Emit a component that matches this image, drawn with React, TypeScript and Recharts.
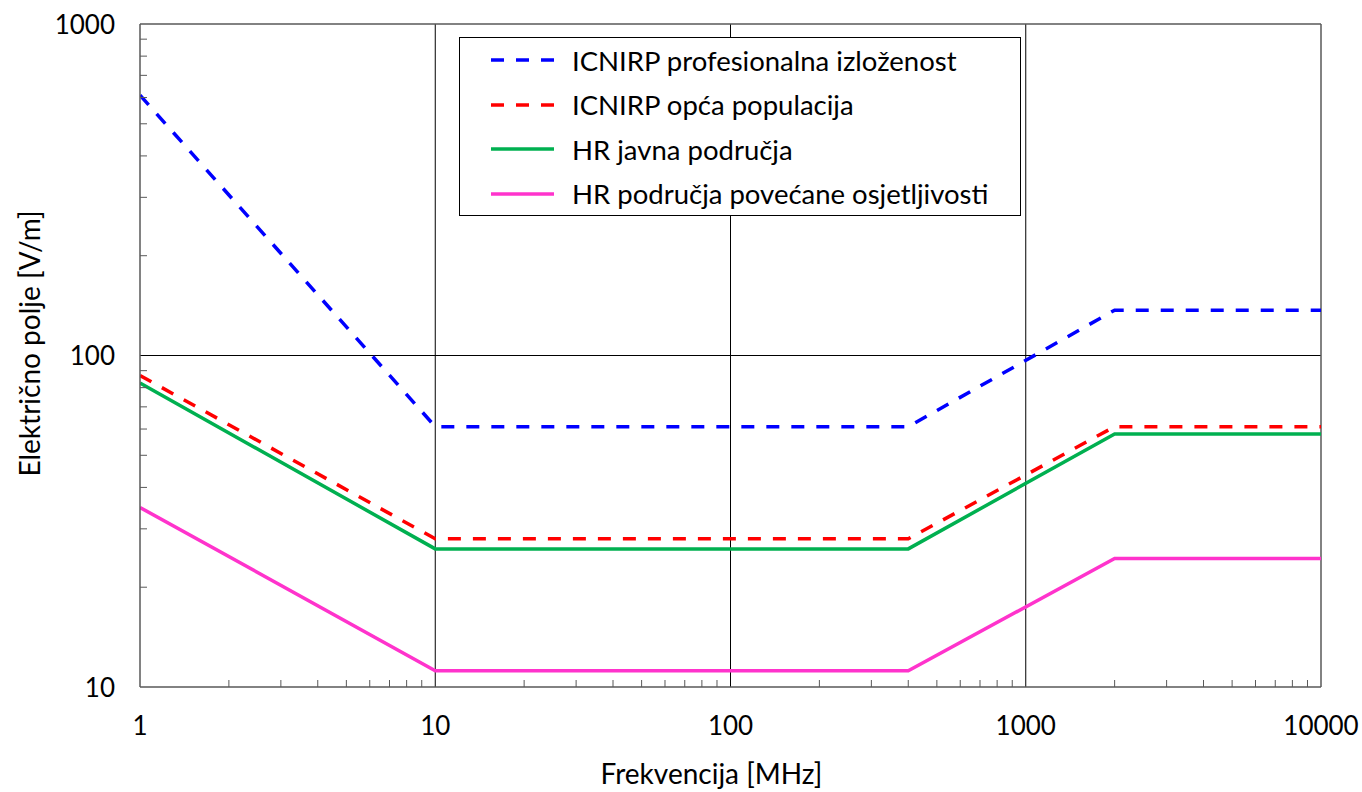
import React from 'react';
import { LineChart, Line, XAxis, YAxis, ReferenceLine, Legend, Label } from 'recharts';

// frequency breakpoints [MHz] and field limits [V/m]
const frequencies = [1, 10, 400, 2000, 10000];
const icnirpProfessional = [610, 61, 61, 137, 137];
const icnirpGeneral = [87, 28, 28, 61, 61];
const hrPublic = [82.6, 26.1, 26.1, 58, 58];
const hrSensitive = [34.8, 11.2, 11.2, 24.4, 24.4];

const xMajorTicks = [1, 10, 100, 1000, 10000];
const xMinorTicks = [
  2, 3, 4, 5, 6, 7, 8, 9,
  20, 30, 40, 50, 60, 70, 80, 90,
  200, 300, 400, 500, 600, 700, 800, 900,
  2000, 3000, 4000, 5000, 6000, 7000, 8000, 9000,
];
const yMajorTicks = [10, 100, 1000];
const yMinorTicks = [20, 30, 40, 50, 60, 70, 80, 90, 200, 300, 400, 500, 600, 700, 800, 900];

const series = [
  { key: 'prof', name: 'ICNIRP profesionalna izloženost', color: '#0000FF', dash: '13 12', values: icnirpProfessional },
  { key: 'general', name: 'ICNIRP opća populacija', color: '#FF0000', dash: '13 12', values: icnirpGeneral },
  { key: 'hrPublic', name: 'HR javna područja', color: '#00B050', dash: undefined, values: hrPublic },
  { key: 'hrSensitive', name: 'HR područja povećane osjetljivosti', color: '#FF33CC', dash: undefined, values: hrSensitive },
];

const data = frequencies.map((freq, i) => {
  const row: Record<string, number> = { freq };
  series.forEach((s) => {
    row[s.key] = s.values[i];
  });
  return row;
});

const AXIS = '#595959';
const FONT = 'Lato, "Open Sans", sans-serif';

function XTick(props: any) {
  const { x, y, payload } = props;
  const major = xMajorTicks.includes(payload.value);
  return (
    <g>
      {!major && <line x1={x} x2={x} y1={y} y2={y - 7} stroke={AXIS} strokeWidth={1} />}
      {major && (
        <text x={x} y={y + 48} textAnchor="middle" fontSize={26} fill="#000" fontFamily={FONT}>
          {payload.value}
        </text>
      )}
    </g>
  );
}

function YTick(props: any) {
  const { x, y, payload } = props;
  const major = yMajorTicks.includes(payload.value);
  return (
    <g>
      {!major && <line x1={x} x2={x + 7} y1={y} y2={y} stroke={AXIS} strokeWidth={1} />}
      {major && (
        <text x={x - 25} y={y + 9.5} textAnchor="end" fontSize={26} fill="#000" fontFamily={FONT}>
          {payload.value}
        </text>
      )}
    </g>
  );
}

function LegendBox() {
  return (
    <div
      style={{
        width: 562,
        height: 179,
        boxSizing: 'border-box',
        border: '1px solid #000',
        background: '#fff',
        fontFamily: FONT,
        fontSize: 27.5,
        color: '#000',
      }}
    >
      {series.map((s) => (
        <div key={s.key} style={{ height: 44.5, display: 'flex', alignItems: 'center' }}>
          <svg width={63} height={10} style={{ marginLeft: 31 }}>
            <line x1={0} x2={63} y1={5} y2={5} stroke={s.color} strokeWidth={3.5} strokeDasharray={s.dash} />
          </svg>
          <span style={{ marginLeft: 18, lineHeight: 1 }}>{s.name}</span>
        </div>
      ))}
    </div>
  );
}

export default function App() {
  return (
    <div style={{ position: 'absolute', left: 0, top: 0 }}>
      <LineChart
        width={1362}
        height={792}
        data={data}
        margin={{ top: 24, right: 41, left: 0, bottom: 0 }}
        style={{ fontFamily: FONT }}
      >
        <XAxis
          dataKey="freq"
          type="number"
          scale="log"
          domain={[1, 10000]}
          allowDataOverflow
          ticks={[...xMajorTicks, ...xMinorTicks]}
          interval={0}
          tick={<XTick />}
          tickLine={false}
          tickSize={0}
          tickMargin={0}
          height={105}
          axisLine={{ stroke: AXIS, strokeWidth: 1.5 }}
        >
          <Label
            content={(p: any) => {
              const vb = p.viewBox;
              return (
                <text x={vb.x + vb.width / 2 - 19} y={vb.y + 97} textAnchor="middle" fontSize={28} fill="#000" fontFamily={FONT}>
                  Frekvencija [MHz]
                </text>
              );
            }}
          />
        </XAxis>
        <YAxis
          type="number"
          scale="log"
          domain={[10, 1000]}
          allowDataOverflow
          ticks={[...yMajorTicks, ...yMinorTicks]}
          interval={0}
          tick={<YTick />}
          tickLine={false}
          tickSize={0}
          tickMargin={0}
          width={140}
          axisLine={{ stroke: AXIS, strokeWidth: 1.5 }}
        >
          <Label
            content={(p: any) => {
              const vb = p.viewBox;
              const cx = 29;
              const cy = vb.y + vb.height / 2 - 12;
              return (
                <text x={cx} y={cy} transform={`rotate(-90 ${cx} ${cy})`} textAnchor="middle" dominantBaseline="central" fontSize={28} fill="#000" fontFamily={FONT}>
                  Električno polje [V/m]
                </text>
              );
            }}
          />
        </YAxis>
        {[10, 100, 1000].map((v) => (
          <ReferenceLine key={`vx${v}`} x={v} stroke="#000" strokeWidth={1} />
        ))}
        <ReferenceLine y={100} stroke="#000" strokeWidth={1} />
        <ReferenceLine y={1000} stroke={AXIS} strokeWidth={1.5} />
        <ReferenceLine x={10000} stroke={AXIS} strokeWidth={1.5} />
        <Legend
          layout="vertical"
          align="center"
          verticalAlign="middle"
          wrapperStyle={{ left: 459, top: 37, width: 562, height: 179 }}
          content={() => <LegendBox />}
        />
        {series.map((s) => (
          <Line
            key={s.key}
            dataKey={s.key}
            name={s.name}
            stroke={s.color}
            strokeWidth={3.5}
            strokeDasharray={s.dash}
            dot={false}
            activeDot={false}
            type="linear"
            isAnimationActive={false}
          />
        ))}
      </LineChart>
    </div>
  );
}
